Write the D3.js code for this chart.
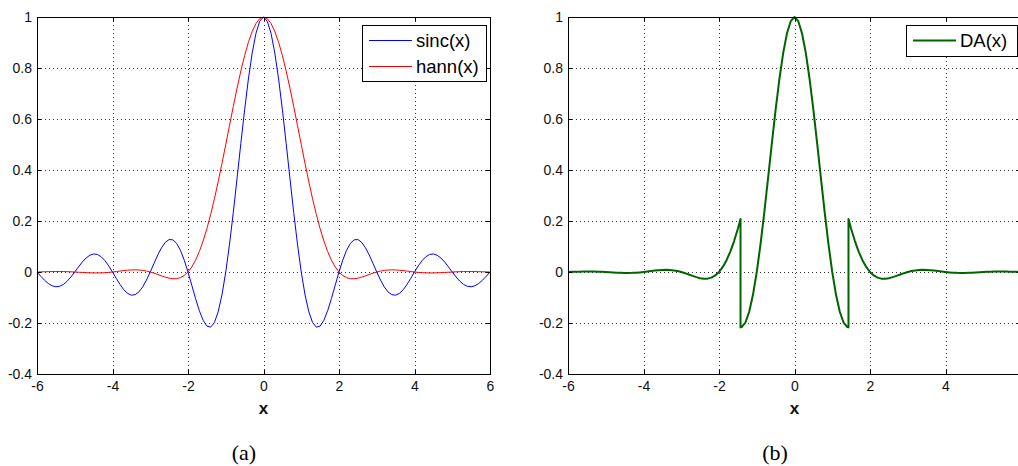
<!DOCTYPE html>
<html>
<head>
<meta charset="utf-8">
<script src="https://cdn.jsdelivr.net/npm/d3@7"></script>
<style>
  html, body { margin: 0; padding: 0; background: #fff; }
  svg { display: block; }
</style>
</head>
<body>
<svg id="chart" width="1018" height="466"></svg>
<script>
// Sample positions shared by sinc(x) and hann(x)
const xs = [
  -6,-5.9,-5.8,-5.7,-5.6,-5.5,-5.4,-5.3,-5.2,-5.1,
  -5,-4.9,-4.8,-4.7,-4.6,-4.5,-4.4,-4.3,-4.2,-4.1,
  -4,-3.9,-3.8,-3.7,-3.6,-3.5,-3.4,-3.3,-3.2,-3.1,
  -3,-2.9,-2.8,-2.7,-2.6,-2.5,-2.4,-2.3,-2.2,-2.1,
  -2,-1.9,-1.8,-1.7,-1.6,-1.5,-1.4,-1.3,-1.2,-1.1,
  -1,-0.9,-0.8,-0.7,-0.6,-0.5,-0.4,-0.3,-0.2,-0.1,
  0,
  0.1,0.2,0.3,0.4,0.5,0.6,0.7,0.8,0.9,1,
  1.1,1.2,1.3,1.4,1.5,1.6,1.7,1.8,1.9,2,
  2.1,2.2,2.3,2.4,2.5,2.6,2.7,2.8,2.9,3,
  3.1,3.2,3.3,3.4,3.5,3.6,3.7,3.8,3.9,4,
  4.1,4.2,4.3,4.4,4.5,4.6,4.7,4.8,4.9,5,
  5.1,5.2,5.3,5.4,5.5,5.6,5.7,5.8,5.9,6
];

const sincValues = [
  0,-0.0167,-0.0323,-0.0452,-0.0541,-0.0579,-0.0561,-0.0486,-0.0360,-0.0193,
  0,0.0201,0.0390,0.0548,0.0658,0.0707,0.0688,0.0599,0.0446,0.0240,
  0,-0.0252,-0.0492,-0.0696,-0.0841,-0.0909,-0.0890,-0.0780,-0.0585,-0.0317,
  0,0.0339,0.0668,0.0954,0.1164,0.1273,0.1261,0.1120,0.0850,0.0468,
  0,-0.0518,-0.1039,-0.1515,-0.1892,-0.2122,-0.2162,-0.1981,-0.1559,-0.0894,
  0,0.1093,0.2339,0.3679,0.5046,0.6366,0.7568,0.8584,0.9355,0.9836,
  1,
  0.9836,0.9355,0.8584,0.7568,0.6366,0.5046,0.3679,0.2339,0.1093,0,
  -0.0894,-0.1559,-0.1981,-0.2162,-0.2122,-0.1892,-0.1515,-0.1039,-0.0518,0,
  0.0468,0.0850,0.1120,0.1261,0.1273,0.1164,0.0954,0.0668,0.0339,0,
  -0.0317,-0.0585,-0.0780,-0.0890,-0.0909,-0.0841,-0.0696,-0.0492,-0.0252,0,
  0.0240,0.0446,0.0599,0.0688,0.0707,0.0658,0.0548,0.0390,0.0201,0,
  -0.0193,-0.0360,-0.0486,-0.0561,-0.0579,-0.0541,-0.0452,-0.0323,-0.0167,0
];

const hannValues = [
  0,0.0005,0.0010,0.0014,0.0018,0.0020,0.0020,0.0018,0.0014,0.0008,
  0,-0.0009,-0.0018,-0.0026,-0.0033,-0.0037,-0.0037,-0.0034,-0.0027,-0.0015,
  0,0.0018,0.0037,0.0055,0.0070,0.0081,0.0084,0.0079,0.0063,0.0037,
  0,-0.0046,-0.0098,-0.0152,-0.0202,-0.0243,-0.0265,-0.0261,-0.0221,-0.0137,
  0,0.0198,0.0464,0.0801,0.1213,0.1698,0.2253,0.2871,0.3544,0.4258,
  0.5,0.5752,0.6496,0.7213,0.7884,0.8488,0.9010,0.9433,0.9745,0.9936,
  1,
  0.9936,0.9745,0.9433,0.9010,0.8488,0.7884,0.7213,0.6496,0.5752,0.5,
  0.4258,0.3544,0.2871,0.2253,0.1698,0.1213,0.0801,0.0464,0.0198,0,
  -0.0137,-0.0221,-0.0261,-0.0265,-0.0243,-0.0202,-0.0152,-0.0098,-0.0046,0,
  0.0037,0.0063,0.0079,0.0084,0.0081,0.0070,0.0055,0.0037,0.0018,0,
  -0.0015,-0.0027,-0.0034,-0.0037,-0.0037,-0.0033,-0.0026,-0.0018,-0.0009,0,
  0.0008,0.0014,0.0018,0.0020,0.0020,0.0018,0.0014,0.0010,0.0005,0
];

// DA(x): switches between the two kernels at |x| = 1.43 (vertical jumps)
const daX = [
  -6,-5.9,-5.8,-5.7,-5.6,-5.5,-5.4,-5.3,-5.2,-5.1,
  -5,-4.9,-4.8,-4.7,-4.6,-4.5,-4.4,-4.3,-4.2,-4.1,
  -4,-3.9,-3.8,-3.7,-3.6,-3.5,-3.4,-3.3,-3.2,-3.1,
  -3,-2.9,-2.8,-2.7,-2.6,-2.5,-2.4,-2.3,-2.2,-2.1,
  -2,-1.9,-1.8,-1.7,-1.6,-1.5,-1.43,-1.43,
  -1.4,-1.3,-1.2,-1.1,-1,-0.9,-0.8,-0.7,-0.6,-0.5,-0.4,-0.3,-0.2,-0.1,
  0,
  0.1,0.2,0.3,0.4,0.5,0.6,0.7,0.8,0.9,1,1.1,1.2,1.3,1.4,
  1.43,1.43,1.5,1.6,1.7,1.8,1.9,2,
  2.1,2.2,2.3,2.4,2.5,2.6,2.7,2.8,2.9,3,
  3.1,3.2,3.3,3.4,3.5,3.6,3.7,3.8,3.9,4,
  4.1,4.2,4.3,4.4,4.5,4.6,4.7,4.8,4.9,5,
  5.1,5.2,5.3,5.4,5.5,5.6,5.7,5.8,5.9,6
];
const daValues = [
  0,0.0005,0.0010,0.0014,0.0018,0.0020,0.0020,0.0018,0.0014,0.0008,
  0,-0.0009,-0.0018,-0.0026,-0.0033,-0.0037,-0.0037,-0.0034,-0.0027,-0.0015,
  0,0.0018,0.0037,0.0055,0.0070,0.0081,0.0084,0.0079,0.0063,0.0037,
  0,-0.0046,-0.0098,-0.0152,-0.0202,-0.0243,-0.0265,-0.0261,-0.0221,-0.0137,
  0,0.0198,0.0464,0.0801,0.1213,0.1698,0.2078,-0.2172,
  -0.2162,-0.1981,-0.1559,-0.0894,0,0.1093,0.2339,0.3679,0.5046,0.6366,0.7568,0.8584,0.9355,0.9836,
  1,
  0.9836,0.9355,0.8584,0.7568,0.6366,0.5046,0.3679,0.2339,0.1093,0,-0.0894,-0.1559,-0.1981,-0.2162,
  -0.2172,0.2078,0.1698,0.1213,0.0801,0.0464,0.0198,0,
  -0.0137,-0.0221,-0.0261,-0.0265,-0.0243,-0.0202,-0.0152,-0.0098,-0.0046,0,
  0.0037,0.0063,0.0079,0.0084,0.0081,0.0070,0.0055,0.0037,0.0018,0,
  -0.0015,-0.0027,-0.0034,-0.0037,-0.0037,-0.0033,-0.0026,-0.0018,-0.0009,0,
  0.0008,0.0014,0.0018,0.0020,0.0020,0.0018,0.0014,0.0010,0.0005,0
];

const xTicks = [-6, -4, -2, 0, 2, 4, 6];
const yTicks = [-0.4, -0.2, 0, 0.2, 0.4, 0.6, 0.8, 1];
const xTickLabelsA = ["-6", "-4", "-2", "0", "2", "4", "6"];
// the right-hand figure is trimmed just past x = 6, so its last label is not shown
const xTickLabelsB = ["-6", "-4", "-2", "0", "2", "4", ""];
const yTickLabels = ["-0.4", "-0.2", "0", "0.2", "0.4", "0.6", "0.8", "1"];

const svg = d3.select("#chart");
const SANS = '"Liberation Sans", Arial, sans-serif';
const SERIF = '"Liberation Serif", "DejaVu Serif", serif';

function drawPanel(opts) {
  const x = d3.scaleLinear().domain([-6, 6]).range([opts.left, opts.right]);
  const y = d3.scaleLinear().domain([-0.4, 1]).range([374, 17]);
  const g = svg.append("g");

  // dotted grid
  const grid = g.append("g").attr("stroke", "#333").attr("stroke-width", 1)
    .attr("stroke-dasharray", "1,3").attr("shape-rendering", "crispEdges");
  xTicks.slice(1, -1).forEach(v => {
    grid.append("line").attr("x1", Math.round(x(v)) + 0.5).attr("x2", Math.round(x(v)) + 0.5)
      .attr("y1", y(1)).attr("y2", y(-0.4));
  });
  yTicks.slice(1, -1).forEach(v => {
    grid.append("line").attr("y1", Math.round(y(v)) + 0.5).attr("y2", Math.round(y(v)) + 0.5)
      .attr("x1", x(-6)).attr("x2", x(6));
  });

  // curves
  const line = d3.line().x(d => x(d[0])).y(d => y(d[1]));
  opts.series.forEach(s => {
    g.append("path")
      .datum(s.xs.map((v, i) => [v, s.ys[i]]))
      .attr("fill", "none").attr("stroke", s.color).attr("stroke-width", s.width)
      .attr("stroke-linejoin", "round")
      .attr("d", line);
  });

  // axes, ticks pointing inward
  const fmtX = (d) => opts.xLabels[xTicks.indexOf(d)];
  const fmtY = (d) => yTickLabels[yTicks.indexOf(d)];
  const axB = g.append("g").attr("transform", "translate(0,374)")
    .call(d3.axisBottom(x).tickValues(xTicks).tickFormat(fmtX).tickSize(-4).tickPadding(7));
  const axT = g.append("g").attr("transform", "translate(0,17)")
    .call(d3.axisTop(x).tickValues(xTicks).tickFormat("").tickSize(-4));
  const axL = g.append("g").attr("transform", `translate(${opts.left},0)`)
    .call(d3.axisLeft(y).tickValues(yTicks).tickFormat(fmtY).tickSize(-4).tickPadding(5));
  const axR = g.append("g").attr("transform", `translate(${opts.right},0)`)
    .call(d3.axisRight(y).tickValues(yTicks).tickFormat("").tickSize(-4));
  [axB, axT, axL, axR].forEach(a => {
    a.selectAll("path, line").attr("stroke", "#000").attr("shape-rendering", "crispEdges");
    a.selectAll("text").attr("font-family", SANS).attr("font-size", 14).attr("fill", "#111");
  });
  axB.selectAll("text").filter(function () { return this.textContent === ""; }).remove();

  // x label
  g.append("text").attr("x", x(0)).attr("y", 414).attr("text-anchor", "middle")
    .attr("font-family", SANS).attr("font-size", 17).attr("font-weight", "bold")
    .attr("fill", "#111").text("x");

  // legend
  const lg = g.append("g");
  const lb = opts.legendBox;
  lg.append("rect").attr("x", lb[0] + 0.5).attr("y", lb[1] + 0.5).attr("width", lb[2]).attr("height", lb[3])
    .attr("fill", "#fff").attr("stroke", "#000").attr("stroke-width", 1).attr("shape-rendering", "crispEdges");
  opts.series.forEach((s, i) => {
    const ly = lb[1] + 15.5 + i * 26;
    lg.append("line").attr("x1", lb[0] + 7).attr("x2", lb[0] + 50).attr("y1", ly).attr("y2", ly)
      .attr("stroke", s.color).attr("stroke-width", s.width);
    lg.append("text").attr("x", lb[0] + 54).attr("y", ly + 6.5)
      .attr("font-family", SANS).attr("font-size", 18.5).attr("fill", "#000").text(s.name);
  });

  // caption
  svg.append("text").attr("x", opts.caption).attr("y", 460).attr("text-anchor", "middle")
    .attr("font-family", SERIF).attr("font-size", 22).attr("fill", "#000").text(opts.captionText);
}

drawPanel({
  left: 37, right: 490,
  xLabels: xTickLabelsA,
  series: [
    { name: "sinc(x)", xs: xs, ys: sincValues, color: "#0000ff", width: 1 },
    { name: "hann(x)", xs: xs, ys: hannValues, color: "#ff0000", width: 1 }
  ],
  legendBox: [362, 25, 124, 56],
  caption: 244, captionText: "(a)"
});

drawPanel({
  left: 568, right: 1021,
  xLabels: xTickLabelsB,
  series: [
    { name: "DA(x)", xs: daX, ys: daValues, color: "#006400", width: 2 }
  ],
  legendBox: [906, 25, 111, 31],
  caption: 775, captionText: "(b)"
});
</script>
</body>
</html>
